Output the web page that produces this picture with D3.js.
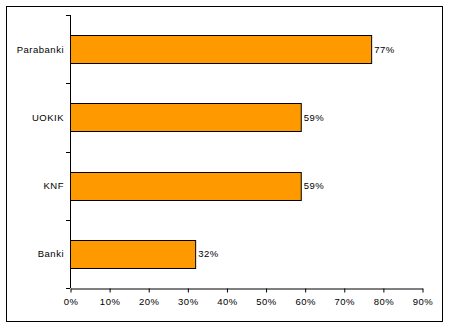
<!DOCTYPE html>
<html>
<head>
<meta charset="utf-8">
<script src="https://cdn.jsdelivr.net/npm/d3@7"></script>
<style>
  body { margin: 0; background: #fff; }
  svg { display: block; }
  text { font-family: "Liberation Sans", Arial, sans-serif; }
</style>
</head>
<body>
<svg id="chart" width="450" height="329"></svg>
<script>
const categories = ["Parabanki", "UOKIK", "KNF", "Banki"];
const values = [77, 59, 59, 32];
const xTicks = [0, 10, 20, 30, 40, 50, 60, 70, 80, 90];

const SVG = d3.select("#chart");

// outer frame
SVG.append("rect")
  .attr("x", 6.5).attr("y", 6.5)
  .attr("width", 436).attr("height", 315)
  .attr("fill", "#fff")
  .attr("stroke", "#000")
  .attr("stroke-width", 1);

const M = { top: 15, left: 70 };
const FS = 9.5;
const x = d3.scaleLinear().domain([0, 90]).range([M.left, 422]);
const y = d3.scaleBand()
  .domain(categories)
  .range([15, 288])
  .paddingInner(0.59)
  .paddingOuter(0.295);

const g = SVG.append("g");

// bars
g.selectAll("rect.bar")
  .data(categories)
  .join("rect")
  .attr("class", "bar")
  .attr("x", x(0) + 0.5)
  .attr("y", d => Math.round(y(d)) + 0.5)
  .attr("width", (d, i) => x(values[i]) - x(0))
  .attr("height", Math.round(y.bandwidth()))
  .attr("fill", "#FF9900")
  .attr("stroke", "#000")
  .attr("stroke-width", 1);

// value labels
g.selectAll("text.val")
  .data(categories)
  .join("text")
  .attr("class", "val")
  .attr("x", (d, i) => x(values[i]) + 3)
  .attr("y", d => y(d) + y.bandwidth() / 2 + 3.5)
  .attr("font-size", FS)
  .attr("letter-spacing", 0.5)
  .text((d, i) => values[i] + "%");

// y axis with ticks at band boundaries
const bounds = d3.range(categories.length + 1).map(i => 15 + i * (273 / categories.length));
g.append("line")
  .attr("x1", M.left + 0.5).attr("x2", M.left + 0.5)
  .attr("y1", 15).attr("y2", 288)
  .attr("stroke", "#000");
g.selectAll("line.ytick")
  .data(bounds)
  .join("line")
  .attr("class", "ytick")
  .attr("x1", M.left - 4).attr("x2", M.left)
  .attr("y1", d => Math.round(d) + 0.5).attr("y2", d => Math.round(d) + 0.5)
  .attr("stroke", "#000");

g.selectAll("text.cat")
  .data(categories)
  .join("text")
  .attr("class", "cat")
  .attr("x", 64)
  .attr("y", d => y(d) + y.bandwidth() / 2 + 3.5)
  .attr("text-anchor", "end")
  .attr("font-size", FS)
  .attr("letter-spacing", 0.5)
  .text(d => d);

// x axis
const xAxis = g.append("g")
  .attr("transform", "translate(0.5,288.5)")
  .call(d3.axisBottom(x).tickValues(xTicks).tickSize(4).tickSizeOuter(0).tickFormat(d => d + "%"));
xAxis.select(".domain").attr("stroke", "#000");
xAxis.selectAll("line").attr("stroke", "#000");
xAxis.selectAll("text")
  .attr("y", 10)
  .attr("font-family", "Liberation Sans, Arial, sans-serif")
  .attr("font-size", FS)
  .attr("letter-spacing", 0.5)
  .attr("fill", "#000");
</script>
</body>
</html>
